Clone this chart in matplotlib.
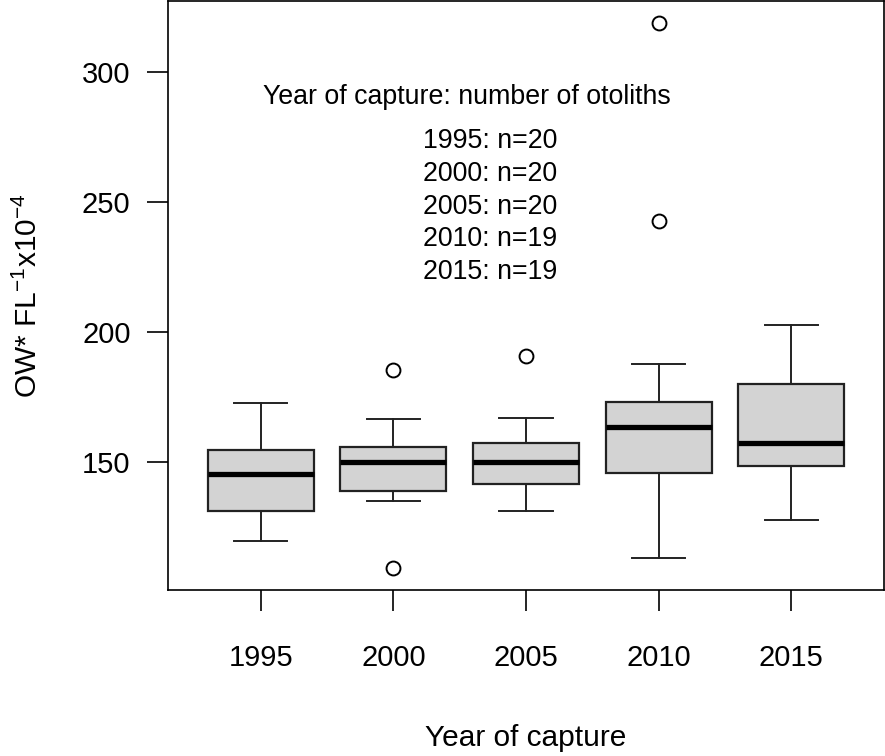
import numpy as np
import matplotlib
matplotlib.use("Agg")
import matplotlib.pyplot as plt

plt.rcParams['font.family'] = ['Liberation Sans', 'DejaVu Sans']
plt.rcParams['mathtext.default'] = 'regular'

# values
years = ['1995', '2000', '2005', '2010', '2015']
n_otoliths = [20, 20, 20, 19, 19]
whis_lo = [119.6, 134.9, 131.0, 112.8, 127.5]
q1 = [131.0, 138.6, 141.3, 145.5, 148.2]
medians = [145.4, 150.0, 150.0, 163.2, 157.3]
q3 = [154.4, 155.7, 157.2, 173.1, 180.0]
whis_hi = [172.6, 166.4, 166.9, 187.7, 202.7]
outliers = [[], [185.2, 109.0], [190.7], [318.7, 242.6], []]

stats = []
for i, yr in enumerate(years):
    stats.append({'label': yr, 'med': medians[i], 'q1': q1[i], 'q3': q3[i],
                  'whislo': whis_lo[i], 'whishi': whis_hi[i],
                  'fliers': outliers[i]})

fig = plt.figure(figsize=(8.85, 7.56), dpi=100)
ax = fig.add_axes([168 / 885, 166 / 756, 716 / 885, 589 / 756])

ax.bxp(stats, positions=np.arange(1, len(years) + 1), widths=0.8,
       patch_artist=True, capwidths=0.4,
       boxprops=dict(facecolor='#d3d3d3', edgecolor='#222222', linewidth=1.6),
       medianprops=dict(color='black', linewidth=3.8, solid_capstyle='butt'),
       whiskerprops=dict(color='#222222', linewidth=1.4),
       capprops=dict(color='#222222', linewidth=1.4),
       flierprops=dict(marker='o', markerfacecolor='none', markeredgecolor='black',
                       markersize=10, markeredgewidth=1.4))

ax.set_xlim(0.3, 5.7)
ax.set_ylim(100.65, 327.2)
ax.set_yticks([150, 200, 250, 300])

for s in ax.spines.values():
    s.set_linewidth(1.2)

ax.tick_params(axis='both', labelsize=21, length=15, width=1.2, direction='out')
ax.tick_params(axis='x', pad=24)
ax.tick_params(axis='y', pad=12)

ax.set_xlabel('Year of capture', fontsize=21.5, labelpad=37)
ax.set_ylabel(r'OW* FL$^{-1}$x10$^{-4}$', fontsize=21.5, labelpad=28)

# legend-like annotation
ax.text(0.418, 0.837, 'Year of capture: number of otoliths', transform=ax.transAxes,
        ha='center', va='center', fontsize=19.3)
y0 = 0.762
for i, yr in enumerate(years):
    ax.text(0.356, y0 - i * 0.0555, f'{yr}: n={n_otoliths[i]}', transform=ax.transAxes,
            ha='left', va='center', fontsize=19.3)

fig.savefig('out.png', dpi=100)
